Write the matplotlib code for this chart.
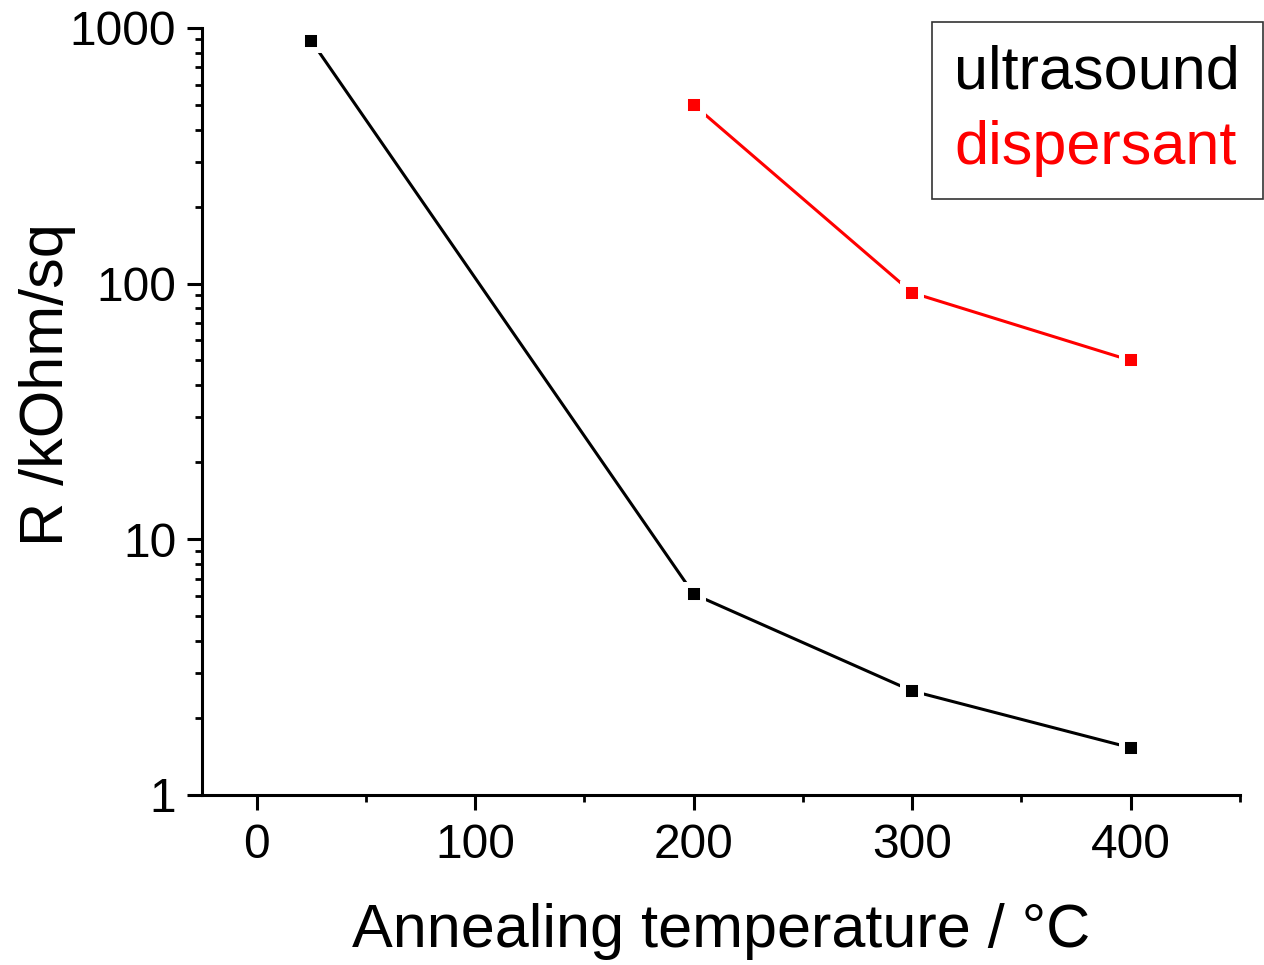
import numpy as np
import matplotlib
matplotlib.use("Agg")
from matplotlib import pyplot as plt
from matplotlib.ticker import FixedLocator, MultipleLocator, LogLocator, NullFormatter

# data
temp_us = [25, 200, 300, 400]
r_us = [890, 6.1, 2.55, 1.53]
temp_disp = [200, 300, 400]
r_disp = [500, 92, 50]

xticks = [0, 100, 200, 300, 400]
yticks = [1, 10, 100, 1000]
ytick_labels = ['1', '10', '100', '1000']

plt.rcParams['font.family'] = ['Liberation Sans', 'DejaVu Sans']

fig = plt.figure(figsize=(12.64, 9.65), dpi=100)
ax = fig.add_axes([0.1598, 0.1762, 0.8212, 0.795])

# white marker edge gives the small gap between line and marker
mkw = dict(marker='s', markersize=13.5, markeredgewidth=4.3, markeredgecolor='white', lw=2.2)
ax.plot(temp_us, r_us, color='black', label='ultrasound', **mkw)
ax.plot(temp_disp, r_disp, color='red', label='dispersant', **mkw)

ax.set_yscale('log')
ax.set_xlim(-25, 450)
ax.set_ylim(1, 1000)

ax.xaxis.set_major_locator(FixedLocator(xticks))
ax.xaxis.set_minor_locator(MultipleLocator(50))
ax.yaxis.set_major_locator(FixedLocator(yticks))
ax.set_yticklabels(ytick_labels)
ax.yaxis.set_minor_locator(LogLocator(base=10, subs=np.arange(2, 10)))
ax.yaxis.set_minor_formatter(NullFormatter())

for s in ['top', 'right']:
    ax.spines[s].set_visible(False)
for s in ['left', 'bottom']:
    ax.spines[s].set_linewidth(2.2)

ax.tick_params(which='major', direction='out', length=10.5, width=2.2, labelsize=34.5)
ax.tick_params(which='minor', direction='out', length=5, width=2.0)
ax.tick_params(axis='y', which='major', pad=8)
ax.tick_params(axis='x', which='major', pad=10)

ax.set_xlabel('Annealing temperature / °C', fontsize=44, labelpad=25)
ax.set_ylabel('R /kOhm/sq', fontsize=44)
ax.yaxis.set_label_coords(-0.121, 0.535)

leg = ax.legend(loc='upper right', bbox_to_anchor=(1.022, 1.008), fontsize=44,
                handlelength=0, handletextpad=0, frameon=True, fancybox=False,
                edgecolor='black', borderpad=0.37, borderaxespad=0, labelspacing=0.3,
                labelcolor=['black', 'red'])
leg.get_frame().set_linewidth(1.2)
for h in leg.legend_handles:
    h.set_visible(False)

fig.savefig('out.png', dpi=100)
